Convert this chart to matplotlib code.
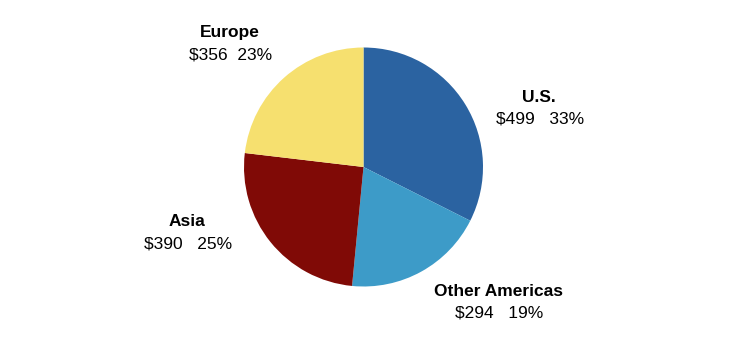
import matplotlib.pyplot as plt

regions = ["U.S.", "Other Americas", "Asia", "Europe"]
amounts = [499, 294, 390, 356]
percents = [33, 19, 25, 23]
gaps = ["   ", "   ", "   ", "  "]

colors = ["#2b63a1", "#3d9bc8", "#800a06", "#f6e06f"]
# label centres in pixels (x, y from top)
label_pos = [(539, 97), (498, 291), (187, 222), (230, 33)]

plt.rcParams['font.family'] = ['Liberation Sans', 'DejaVu Sans']

fig = plt.figure(figsize=(7.49, 3.57), dpi=100)
ax = fig.add_axes([0, 0, 1, 1])

ax.pie(amounts, colors=colors, startangle=90, counterclock=False,
       center=(363.5, 357 - 167), radius=119.5,
       wedgeprops=dict(linewidth=0), frame=True)
ax.set_xlim(0, 749)
ax.set_ylim(0, 357)
ax.axis('off')

for name, amt, pct, gap, (x, y) in zip(regions, amounts, percents, gaps, label_pos):
    ax.text(x, 357 - y, name, ha='center', va='center', fontsize=12.5,
            fontweight='bold', color='black')
    ax.text(x + 1, 357 - y - 22, f"${amt}{gap}{pct}%", ha='center', va='center',
            fontsize=12.5, color='black')

fig.savefig("out.png", dpi=100)
